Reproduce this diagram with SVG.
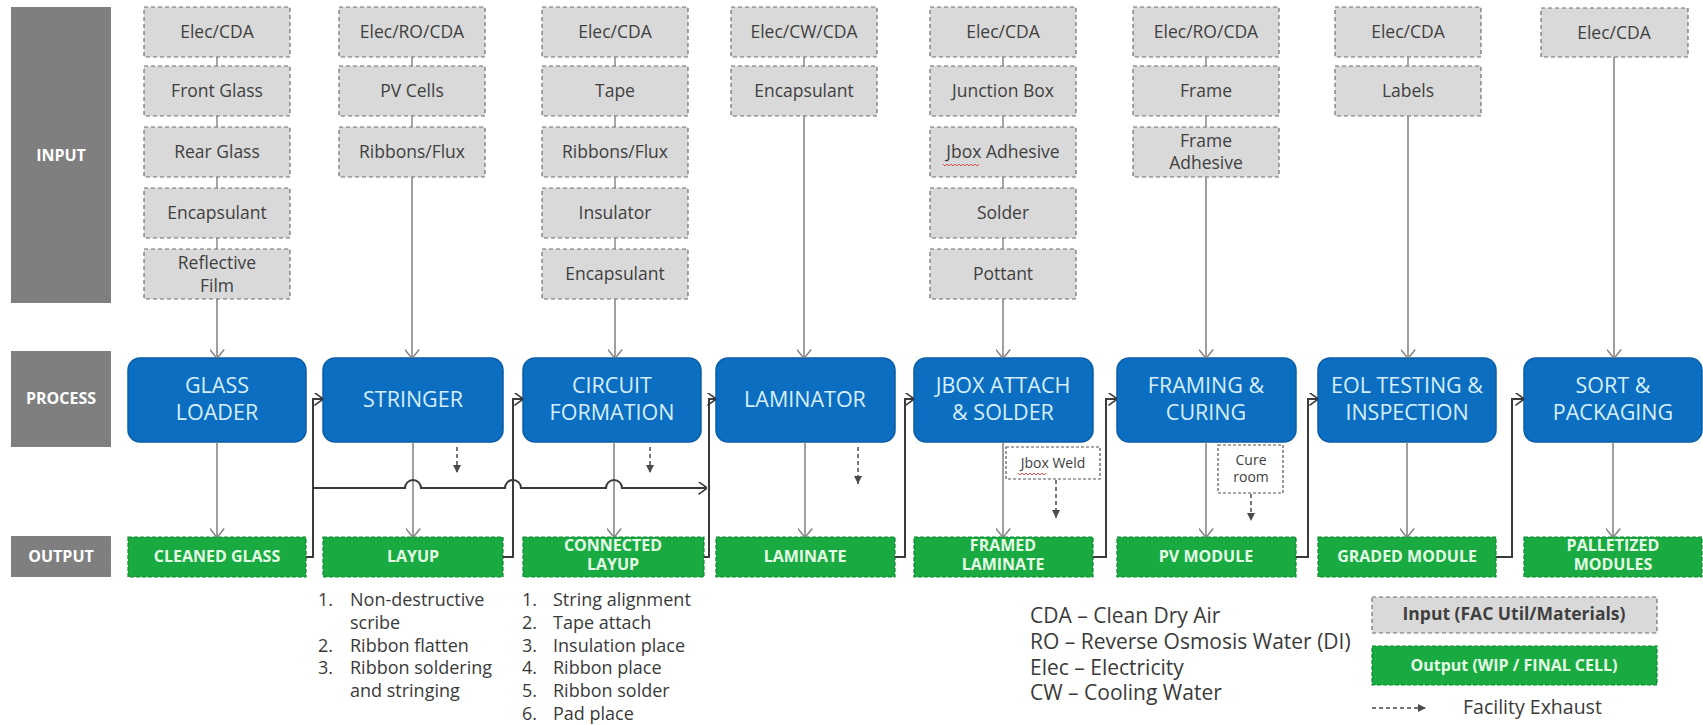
<svg xmlns="http://www.w3.org/2000/svg" width="1703" height="725" viewBox="0 0 1703 725">
<defs>
<style>
.bg{fill:#ffffff}
.lbl rect{fill:#7f7f7f}
.lbl text{font-family:"Open Sans","Liberation Sans",sans-serif;font-weight:bold;font-size:16px;fill:#ffffff;text-anchor:middle}
.in rect{fill:#d9d9d9;stroke:#6f6f6f;stroke-width:1.2;stroke-dasharray:4 3}
.in text{font-family:"Open Sans","Liberation Sans",sans-serif;font-size:17.5px;fill:#3f3f3f;text-anchor:middle}
.in line{stroke:#6f6f6f;stroke-width:1.2}
.proc rect{fill:#0b6ec1;stroke:#0a5da6;stroke-width:1.5}
.proc text{font-family:"Open Sans","Liberation Sans",sans-serif;font-size:21.5px;fill:#d6eeff;text-anchor:middle}
.out rect{fill:#19aa42;stroke:#0e8a30;stroke-width:1.2;stroke-dasharray:4 2}
.out text{font-family:"Open Sans","Liberation Sans",sans-serif;font-weight:bold;font-size:16px;fill:#e4ffe6;text-anchor:middle}
.note rect{fill:#ffffff;stroke:#555555;stroke-width:1.2;stroke-dasharray:3 2}
.note text{font-family:"Open Sans","Liberation Sans",sans-serif;font-size:14px;fill:#404040;text-anchor:middle}
.feed{fill:none;stroke:#7f7f7f;stroke-width:1.5;marker-end:url(#chevGray)}
.flow{fill:none;stroke:#3a3a3a;stroke-width:2;marker-end:url(#chevDark)}
.exh{fill:none;stroke:#4a4a4a;stroke-width:1.5;stroke-dasharray:4 3;marker-end:url(#tri)}
.txt{font-family:"Open Sans","Liberation Sans",sans-serif;fill:#3a3a3a}
.squig{fill:none;stroke:#e05050;stroke-width:1}
</style>
<marker id="chevGray" viewBox="0 0 10 16" refX="9.5" refY="8" markerWidth="9" markerHeight="15" orient="auto" markerUnits="userSpaceOnUse"><path d="M0,0 L10,8 L0,16" fill="none" stroke="#7f7f7f" stroke-width="1.6"/></marker>
<marker id="chevDark" viewBox="0 0 10 14" refX="9.5" refY="7" markerWidth="9" markerHeight="13" orient="auto" markerUnits="userSpaceOnUse"><path d="M0,0 L10,7 L0,14" fill="none" stroke="#3a3a3a" stroke-width="1.8"/></marker>
<marker id="tri" viewBox="0 0 10 10" refX="10" refY="5" markerWidth="8" markerHeight="8" orient="auto" markerUnits="userSpaceOnUse"><path d="M0,0 L10,5 L0,10 z" fill="#4a4a4a"/></marker>
</defs>
<rect class="bg" x="0" y="0" width="1703" height="725"/>

<g id="row-labels" class="lbl">
<g id="lbl-input"><rect x="11" y="7" width="100" height="296"/><text x="61" y="161">INPUT</text></g>
<g id="lbl-process"><rect x="11" y="351" width="100" height="96"/><text x="61" y="404">PROCESS</text></g>
<g id="lbl-output"><rect x="11" y="536" width="100" height="41"/><text x="61" y="562">OUTPUT</text></g>
</g>

<g id="inputs" class="in">
<g id="in-col1">
<rect x="144" y="7" width="146" height="50"/><text x="217" y="38">Elec/CDA</text>
<line x1="217" y1="57" x2="217" y2="66"/>
<rect x="144" y="66" width="146" height="50"/><text x="217" y="97">Front Glass</text>
<line x1="217" y1="116" x2="217" y2="127"/>
<rect x="144" y="127" width="146" height="50"/><text x="217" y="158">Rear Glass</text>
<line x1="217" y1="177" x2="217" y2="188"/>
<rect x="144" y="188" width="146" height="50"/><text x="217" y="219">Encapsulant</text>
<line x1="217" y1="238" x2="217" y2="249"/>
<rect x="144" y="249" width="146" height="50"/><text x="217" y="269">Reflective</text><text x="217" y="292">Film</text>
</g>
<g id="in-col2">
<rect x="339" y="7" width="146" height="50"/><text x="412" y="38">Elec/RO/CDA</text>
<line x1="412" y1="57" x2="412" y2="66"/>
<rect x="339" y="66" width="146" height="50"/><text x="412" y="97">PV Cells</text>
<line x1="412" y1="116" x2="412" y2="127"/>
<rect x="339" y="127" width="146" height="50"/><text x="412" y="158">Ribbons/Flux</text>
</g>
<g id="in-col3">
<rect x="542" y="7" width="146" height="50"/><text x="615" y="38">Elec/CDA</text>
<line x1="615" y1="57" x2="615" y2="66"/>
<rect x="542" y="66" width="146" height="50"/><text x="615" y="97">Tape</text>
<line x1="615" y1="116" x2="615" y2="127"/>
<rect x="542" y="127" width="146" height="50"/><text x="615" y="158">Ribbons/Flux</text>
<line x1="615" y1="177" x2="615" y2="188"/>
<rect x="542" y="188" width="146" height="50"/><text x="615" y="219">Insulator</text>
<line x1="615" y1="238" x2="615" y2="249"/>
<rect x="542" y="249" width="146" height="50"/><text x="615" y="280">Encapsulant</text>
</g>
<g id="in-col4">
<rect x="731" y="7" width="146" height="50"/><text x="804" y="38">Elec/CW/CDA</text>
<line x1="804" y1="57" x2="804" y2="66"/>
<rect x="731" y="66" width="146" height="50"/><text x="804" y="97">Encapsulant</text>
</g>
<g id="in-col5">
<rect x="930" y="7" width="146" height="50"/><text x="1003" y="38">Elec/CDA</text>
<line x1="1003" y1="57" x2="1003" y2="66"/>
<rect x="930" y="66" width="146" height="50"/><text x="1003" y="97">Junction Box</text>
<line x1="1003" y1="116" x2="1003" y2="127"/>
<rect x="930" y="127" width="146" height="50"/><text x="1003" y="158">Jbox Adhesive</text>
<line x1="1003" y1="177" x2="1003" y2="188"/>
<rect x="930" y="188" width="146" height="50"/><text x="1003" y="219">Solder</text>
<line x1="1003" y1="238" x2="1003" y2="249"/>
<rect x="930" y="249" width="146" height="50"/><text x="1003" y="280">Pottant</text>
</g>
<g id="in-col6">
<rect x="1133" y="7" width="146" height="50"/><text x="1206" y="38">Elec/RO/CDA</text>
<line x1="1206" y1="57" x2="1206" y2="66"/>
<rect x="1133" y="66" width="146" height="50"/><text x="1206" y="97">Frame</text>
<line x1="1206" y1="116" x2="1206" y2="127"/>
<rect x="1133" y="127" width="146" height="50"/><text x="1206" y="147">Frame</text><text x="1206" y="169">Adhesive</text>
</g>
<g id="in-col7">
<rect x="1335" y="7" width="146" height="50"/><text x="1408" y="38">Elec/CDA</text>
<line x1="1408" y1="57" x2="1408" y2="66"/>
<rect x="1335" y="66" width="146" height="50"/><text x="1408" y="97">Labels</text>
</g>
<g id="in-col8">
<rect x="1541" y="8" width="147" height="49"/><text x="1614" y="39">Elec/CDA</text>
</g>
</g>
<path class="squig" d="M943,164 l2,2 l2,-2 l2,2 l2,-2 l2,2 l2,-2 l2,2 l2,-2 l2,2 l2,-2 l2,2 l2,-2 l2,2 l2,-2 l2,2 l2,-2 l2,2 l2,-2"/>

<g id="processes" class="proc">
<g id="p-glass"><rect x="128" y="358" width="178" height="84" rx="12"/><text x="217" y="393">GLASS</text><text x="217" y="420">LOADER</text></g>
<g id="p-stringer"><rect x="323" y="358" width="180" height="84" rx="12"/><text x="413" y="407">STRINGER</text></g>
<g id="p-circuit"><rect x="523" y="358" width="178" height="84" rx="12"/><text x="612" y="393">CIRCUIT</text><text x="612" y="420">FORMATION</text></g>
<g id="p-laminator"><rect x="716" y="358" width="179" height="84" rx="12"/><text x="805" y="407">LAMINATOR</text></g>
<g id="p-jbox"><rect x="914" y="358" width="179" height="84" rx="12"/><text x="1003" y="393">JBOX ATTACH</text><text x="1003" y="420">&amp; SOLDER</text></g>
<g id="p-framing"><rect x="1117" y="358" width="179" height="84" rx="12"/><text x="1206" y="393">FRAMING &amp;</text><text x="1206" y="420">CURING</text></g>
<g id="p-eol"><rect x="1318" y="358" width="178" height="84" rx="12"/><text x="1407" y="393">EOL TESTING &amp;</text><text x="1407" y="420">INSPECTION</text></g>
<g id="p-sort"><rect x="1524" y="358" width="178" height="84" rx="12"/><text x="1613" y="393">SORT &amp;</text><text x="1613" y="420">PACKAGING</text></g>
</g>

<g id="outputs" class="out">
<g id="o-cleaned"><rect x="128" y="537" width="178" height="40"/><text x="217" y="562">CLEANED GLASS</text></g>
<g id="o-layup"><rect x="323" y="537" width="180" height="40"/><text x="413" y="562">LAYUP</text></g>
<g id="o-connected"><rect x="523" y="537" width="181" height="40"/><text x="613" y="551">CONNECTED</text><text x="613" y="570">LAYUP</text></g>
<g id="o-laminate"><rect x="716" y="537" width="179" height="40"/><text x="805" y="562">LAMINATE</text></g>
<g id="o-framed"><rect x="914" y="537" width="179" height="40"/><text x="1003" y="551">FRAMED</text><text x="1003" y="570">LAMINATE</text></g>
<g id="o-pv"><rect x="1117" y="537" width="179" height="40"/><text x="1206" y="562">PV MODULE</text></g>
<g id="o-graded"><rect x="1318" y="537" width="178" height="40"/><text x="1407" y="562">GRADED MODULE</text></g>
<g id="o-palletized"><rect x="1524" y="537" width="178" height="40"/><text x="1613" y="551">PALLETIZED</text><text x="1613" y="570">MODULES</text></g>
</g>

<g id="notes" class="note">
<g id="n-jboxweld"><rect x="1006" y="447" width="94" height="32"/><text x="1053" y="468">Jbox Weld</text></g>
<g id="n-cure"><rect x="1218" y="445" width="65" height="48"/><text x="1251" y="465">Cure</text><text x="1251" y="482">room</text></g>
</g>
<path class="squig" d="M1018,473 l2,2 l2,-2 l2,2 l2,-2 l2,2 l2,-2 l2,2 l2,-2 l2,2 l2,-2 l2,2 l2,-2 l2,2 l2,-2"/>

<g id="connectors">
<path class="feed" d="M217,299 V358"/>
<path class="feed" d="M412,177 V358"/>
<path class="feed" d="M615,299 V358"/>
<path class="feed" d="M804,116 V358"/>
<path class="feed" d="M1003,299 V358"/>
<path class="feed" d="M1206,177 V358"/>
<path class="feed" d="M1408,116 V358"/>
<path class="feed" d="M1614,57 V358"/>

<path class="feed" d="M217,442 V537"/>
<path class="feed" d="M413,442 V537"/>
<path class="feed" d="M614,442 V537"/>
<path class="feed" d="M805,442 V537"/>
<path class="feed" d="M1003,442 V537"/>
<path class="feed" d="M1206,442 V537"/>
<path class="feed" d="M1407,442 V537"/>
<path class="feed" d="M1613,442 V537"/>

<path class="flow" d="M306,557 H313 V399 H323"/>
<path class="flow" d="M503,557 H513 V399 H523"/>
<path class="flow" d="M704,557 H709 V399 H716"/>
<path class="flow" d="M895,557 H905 V399 H914"/>
<path class="flow" d="M1093,557 H1106 V399 H1117"/>
<path class="flow" d="M1296,557 H1308 V399 H1318"/>
<path class="flow" d="M1496,557 H1512 V399 H1524"/>

<path class="flow" d="M313,488 H405 A8,8 0 0 1 421,488 H505 A8,8 0 0 1 521,488 H606 A8,8 0 0 1 622,488 H707"/>

<path class="exh" d="M457,447 V473"/>
<path class="exh" d="M650,447 V473"/>
<path class="exh" d="M858,447 V484"/>
<path class="exh" d="M1056,480 V518"/>
<path class="exh" d="M1251,494 V521"/>
</g>

<g id="steps-stringer" class="txt" font-size="18">
<text x="318" y="606">1.</text><text x="350" y="606">Non-destructive</text>
<text x="350" y="629">scribe</text>
<text x="318" y="652">2.</text><text x="350" y="652">Ribbon flatten</text>
<text x="318" y="674">3.</text><text x="350" y="674">Ribbon soldering</text>
<text x="350" y="697">and stringing</text>
</g>
<g id="steps-circuit" class="txt" font-size="18">
<text x="522" y="606">1.</text><text x="553" y="606">String alignment</text>
<text x="522" y="629">2.</text><text x="553" y="629">Tape attach</text>
<text x="522" y="652">3.</text><text x="553" y="652">Insulation place</text>
<text x="522" y="674">4.</text><text x="553" y="674">Ribbon place</text>
<text x="522" y="697">5.</text><text x="553" y="697">Ribbon solder</text>
<text x="522" y="720">6.</text><text x="553" y="720">Pad place</text>
</g>

<g id="abbrev" class="txt" font-size="21">
<text x="1030" y="623">CDA – Clean Dry Air</text>
<text x="1030" y="649">RO – Reverse Osmosis Water (DI)</text>
<text x="1030" y="675">Elec – Electricity</text>
<text x="1030" y="700">CW – Cooling Water</text>
</g>

<g id="legend">
<g id="leg-input" class="in"><rect x="1372" y="597" width="285" height="36"/><text x="1514" y="620" font-weight="bold" font-size="15.5" fill="#333333">Input (FAC Util/Materials)</text></g>
<g id="leg-output" class="out"><rect x="1372" y="646" width="285" height="39"/><text x="1514" y="671" font-size="15.5">Output  (WIP / FINAL CELL)</text></g>
<g id="leg-exhaust"><path class="exh" d="M1372,708 H1426"/><text class="txt" x="1463" y="714" font-size="19.5">Facility Exhaust</text></g>
</g>
</svg>
